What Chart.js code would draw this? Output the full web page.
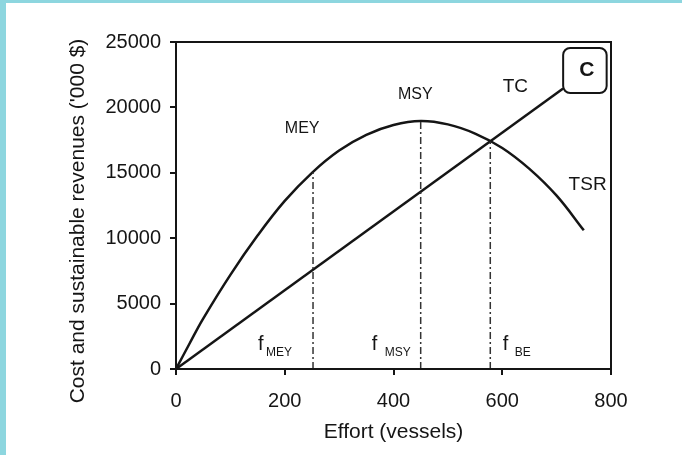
<!DOCTYPE html>
<html>
<head>
<meta charset="utf-8">
<script src="https://cdn.jsdelivr.net/npm/chart.js@4.4.1/dist/chart.umd.min.js"></script>
<style>
  html, body { margin: 0; padding: 0; background: #fff; }
  #wrap { width: 682px; height: 455px; }
</style>
</head>
<body>
<div id="wrap"><canvas id="chart" width="682" height="455"></canvas></div>
<script>
// effort (vessels) vs total sustainable revenue ('000 $)
const effort = [0, 25, 50, 100, 150, 200, 250, 300, 350, 400, 450, 500, 550, 600, 650, 700, 750];
const revenue = [0, 1950, 3850, 7200, 10200, 12850, 15000, 16700, 17900, 18650, 18960, 18700, 18000, 16900, 15300, 13250, 10600];

// total cost line (ends at the "C" box)
const costEffort = [0, 712];
const cost = [0, 21450];

// reference efforts: f_MEY, f_MSY, f_BE and where the drop lines stop
const refEffort = [252, 450, 578];
const refTop = [15050, 18960, 17400];

const xTicks = [0, 200, 400, 600, 800];
const yTicks = [0, 5000, 10000, 15000, 20000, 25000];

const INK = '#151515';
const FONT = '"Liberation Sans", Arial, sans-serif';

// --- small helper for plugin text ---
function label(ctx, text, x, y, size, opts = {}) {
    ctx.save();
    ctx.font = (opts.bold ? 'bold ' : '') + size + 'px ' + FONT;
    ctx.fillStyle = INK;
    ctx.textAlign = opts.align || 'center';
    ctx.textBaseline = opts.baseline || 'middle';
    ctx.fillText(text, x, y);
    ctx.restore();
}

// --- page background (cyan strips of the scan) ---
const backdrop = {
    id: 'backdrop',
    beforeDraw(chart) {
        const ctx = chart.ctx;
        ctx.save();
        ctx.fillStyle = '#fff';
        ctx.fillRect(0, 0, chart.width, chart.height);
        ctx.fillStyle = '#8dd6df';
        ctx.fillRect(0, 0, chart.width, 3);
        ctx.fillRect(0, 0, 6, chart.height);
        ctx.restore();
    }
};

// --- frame, y title and annotations ---
const annotations = {
    id: 'annotations',
    afterDraw(chart) {
        const ctx = chart.ctx;
        const a = chart.chartArea;
        const x = chart.scales.x, y = chart.scales.y;
        const px = v => x.getPixelForValue(v);
        const py = v => y.getPixelForValue(v);

        ctx.save();
        ctx.strokeStyle = INK;
        ctx.lineWidth = 2;
        ctx.strokeRect(a.left, a.top, a.right - a.left, a.bottom - a.top);
        ctx.restore();

        // y axis title
        ctx.save();
        ctx.translate(78, 221);
        ctx.rotate(-Math.PI / 2);
        label(ctx, "Cost and sustainable revenues ('000 $)", 0, 0, 21);
        ctx.restore();

        // curve labels
        label(ctx, 'MEY', px(232), py(18350), 16);
        label(ctx, 'MSY', px(440), py(20950), 16);
        label(ctx, 'TC', px(624), py(21600), 19);
        label(ctx, 'TSR', px(757), py(14100), 19);

        // C box
        const bx = px(712), by = py(24540);
        const bw = px(792) - bx, bh = py(21100) - by;
        ctx.save();
        ctx.strokeStyle = INK;
        ctx.lineWidth = 2;
        ctx.beginPath();
        ctx.roundRect(bx, by, bw, bh, 7);
        ctx.stroke();
        ctx.restore();
        label(ctx, 'C', bx + bw / 2 + 2, by + bh / 2, 21, { bold: true });

        // f labels with subscripts
        const fLabels = [['MEY', 151, 8], ['MSY', 360, 13], ['BE', 601, 12]];
        fLabels.forEach(([sub, f, gap]) => {
            const fx = px(f);
            label(ctx, 'f', fx, 350, 20, { align: 'left', baseline: 'alphabetic' });
            label(ctx, sub, fx + gap, 356, 12, { align: 'left', baseline: 'alphabetic' });
        });
    }
};

const ctx = document.getElementById('chart').getContext('2d');

const dropLines = refEffort.map((f, i) => ({
    data: [{ x: f, y: 0 }, { x: f, y: refTop[i] }],
    borderColor: '#333',
    borderWidth: 1.5,
    borderDash: [7, 3, 2, 3],
    pointRadius: 0
}));

new Chart(ctx, {
    type: 'line',
    data: {
        datasets: [
            ...dropLines,
            {
                label: 'TSR',
                data: effort.map((f, i) => ({ x: f, y: revenue[i] })),
                borderColor: INK,
                borderWidth: 2.5,
                pointRadius: 0,
                tension: 0.4
            },
            {
                label: 'TC',
                data: costEffort.map((f, i) => ({ x: f, y: cost[i] })),
                borderColor: INK,
                borderWidth: 2.5,
                pointRadius: 0
            }
        ]
    },
    options: {
        responsive: false,
        animation: false,
        devicePixelRatio: 1,
        layout: { padding: { left: 0, top: 42, right: 71, bottom: 0 } },
        plugins: { legend: { display: false }, tooltip: { enabled: false } },
        scales: {
            x: {
                type: 'linear',
                min: 0, max: 800,
                afterBuildTicks: s => { s.ticks = xTicks.map(v => ({ value: v })); },
                afterFit: s => { s.height = 86; },
                border: { color: INK, width: 2 },
                grid: { drawOnChartArea: false, tickLength: 6, color: INK, lineWidth: 2 },
                ticks: {
                    color: INK, padding: 14, maxRotation: 0,
                    font: { family: FONT, size: 20 },
                    callback: v => String(v)
                },
                title: {
                    display: true, text: 'Effort (vessels)', color: INK,
                    font: { family: FONT, size: 21 },
                    padding: { top: 0, bottom: 10 }
                }
            },
            y: {
                min: 0, max: 25000,
                afterBuildTicks: s => { s.ticks = yTicks.map(v => ({ value: v })); },
                afterFit: s => { s.width = 176; },
                border: { color: INK, width: 2 },
                grid: { drawOnChartArea: false, tickLength: 6, color: INK, lineWidth: 2 },
                ticks: {
                    color: INK, padding: 9,
                    font: { family: FONT, size: 20 },
                    callback: v => String(v)
                }
            }
        }
    },
    plugins: [backdrop, annotations]
});
</script>
</body>
</html>
